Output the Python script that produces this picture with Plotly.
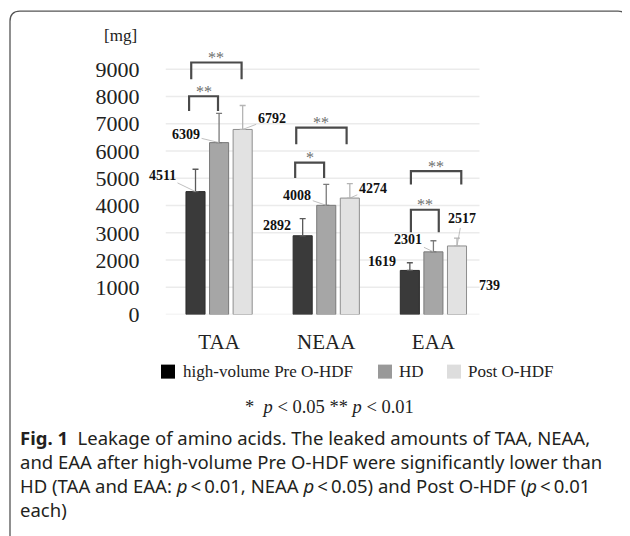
import plotly.graph_objects as go

OFF = 8          # default body margin of the html page
SY = 536 / 550   # vertical factor observed between page and picture
W = 630 - 2 * OFF
H = 550 - 2 * OFF

categories = ["TAA", "NEAA", "EAA"]
series_names = ["high-volume Pre O-HDF", "HD", "Post O-HDF"]
pre_hdf = [4511, 2892, 1619]
hd = [6309, 4008, 2301]
post_hdf = [6792, 4274, 2517]
pre_sd = [820, 626, 281]
hd_sd = [1070, 771, 408]
post_sd = [880, 531, 288]
y_ticks = [0, 1000, 2000, 3000, 4000, 5000, 6000, 7000, 8000, 9000]
stray_label = 739

# significance brackets: (x_left, x_right, y_top, y_bottom, label)
brackets = [
    (-0.26, 0.21, 9250, 8630, "**"),
    (-0.28, -0.01, 8010, 7470, "**"),
    (0.72, 1.19, 6860, 6245, "**"),
    (0.71, 0.98, 5573, 5007, "*"),
    (1.79, 2.26, 5265, 4776, "**"),
    (1.79, 2.05, 3846, 3024, "**"),
]

values = [pre_hdf, hd, post_hdf]
sds = [pre_sd, hd_sd, post_sd]
fills = ["#3a3a3a", "#a6a6a6", "#e2e2e2"]
lines = ["#2b2b2b", "#7a7a7a", "#8e8e8e"]
err_cols = ["#5a5a5a", "#7a7a7a", "#b5b5b5"]
offsets = [-0.22, 0.0, 0.22]
bw = 0.178

SERIF = "Liberation Serif"
SANS = "Noto Sans"


def px(x):
    return (x - OFF) / W


def py(y):
    return 1 - (y / SY - OFF) / H


fig = go.Figure()
for j in range(3):
    fig.add_trace(go.Bar(
        x=[i + offsets[j] for i in range(len(categories))],
        y=values[j],
        width=bw,
        name=series_names[j],
        marker=dict(color=fills[j], line=dict(color=lines[j], width=1)),
        error_y=dict(type="data", array=sds[j], arrayminus=[0] * 3,
                     symmetric=False, color=err_cols[j], thickness=1.3, width=3),
        showlegend=False,
    ))

shapes = []
for t in y_ticks:
    shapes.append(dict(type="line", xref="x", yref="y", x0=-0.5, x1=2.43, y0=t, y1=t,
                       line=dict(color="#ebebeb", width=1.5), layer="below"))
for (xl, xr, yt, yb, lab) in brackets:
    shapes.append(dict(type="path", xref="x", yref="y",
                       path=f"M {xl},{yb} L {xl},{yt} L {xr},{yt} L {xr},{yb}",
                       line=dict(color="#4a4a4a", width=2.2)))
# frame
r = 10
x0f, y0f, x1f, y1f = 10, 11, 628, 548
path = (f"M {px(x0f)},{py(y1f)} L {px(x0f)},{py(y0f + r)} "
        f"Q {px(x0f)},{py(y0f)} {px(x0f + r)},{py(y0f)} "
        f"L {px(x1f - r)},{py(y0f)} Q {px(x1f)},{py(y0f)} {px(x1f)},{py(y0f + r)} "
        f"L {px(x1f)},{py(y1f - r)} Q {px(x1f)},{py(y1f)} {px(x1f - r)},{py(y1f)} "
        f"L {px(x0f + r)},{py(y1f)} Q {px(x0f)},{py(y1f)} {px(x0f)},{py(y1f - r)} Z")
shapes.append(dict(type="path", xref="paper", yref="paper", path=path,
                   line=dict(color="#555555", width=1.3)))

leg_sq = [(161, 175), (378, 392), (447, 461)]
leg_fill = ["#000000", "#999999", "#dddddd"]
for (a, b), c in zip(leg_sq, leg_fill):
    shapes.append(dict(type="rect", xref="paper", yref="paper",
                       x0=px(a), x1=px(b), y0=py(378), y1=py(364),
                       fillcolor=c, line=dict(width=0)))

annotations = []
for (xl, xr, yt, yb, lab) in brackets:
    annotations.append(dict(x=(xl + xr) / 2, y=yt, xref="x", yref="y", text=lab,
                            showarrow=False, xanchor="center", yanchor="middle", yshift=5,
                            font=dict(family=SERIF, size=16, color="#6e6e6e")))

# data labels: (series, category, dx, dy, leader)
label_pos = [
    (0, 0, -33, -16, True), (1, 0, -33, -8, True), (2, 0, 29, -11, True),
    (0, 1, -26, -10, False), (1, 1, -29, -10, True), (2, 1, 23, -10, True),
    (0, 2, -28, -9, False), (1, 2, -25, -12, True), (2, 2, 5, -27, True),
]
for (j, i, ax, ay, lead) in label_pos:
    v = values[j][i]
    xx = i + offsets[j]
    if lead:
        annotations.append(dict(x=xx, y=v, xref="x", yref="y", text=f"<b>{v}</b>",
                                showarrow=True, arrowhead=0, arrowwidth=0.8,
                                arrowcolor="#b0b0b0", ax=ax, ay=ay, standoff=0,
                                xanchor="center", yanchor="middle",
                                font=dict(family=SERIF, size=14, color="#111111")))
    else:
        annotations.append(dict(x=xx, y=v, xref="x", yref="y", text=f"<b>{v}</b>",
                                showarrow=False, xshift=ax, yshift=-ay,
                                xanchor="center", yanchor="middle",
                                font=dict(family=SERIF, size=14, color="#111111")))
annotations.append(dict(x=px(489), y=py(285), xref="paper", yref="paper",
                        text=f"<b>{stray_label}</b>", showarrow=False,
                        xanchor="center", yanchor="middle",
                        font=dict(family=SERIF, size=14, color="#111111")))

annotations.append(dict(x=px(120), y=py(35), xref="paper", yref="paper", text="[mg]",
                        showarrow=False, xanchor="center", yanchor="middle",
                        font=dict(family=SERIF, size=17, color="#222222")))

leg_text_x = [181, 397, 466]
for name, lx in zip(series_names, leg_text_x):
    annotations.append(dict(x=px(lx), y=py(371), xref="paper", yref="paper", text=name,
                            showarrow=False, xanchor="left", yanchor="middle",
                            font=dict(family=SERIF, size=17, color="#222222")))

annotations.append(dict(x=px(329), y=py(406), xref="paper", yref="paper",
                        text="*  <i>p</i> &lt; 0.05 ** <i>p</i> &lt; 0.01",
                        showarrow=False, xanchor="center", yanchor="middle",
                        font=dict(family=SERIF, size=18.5, color="#222222")))

ts = "\u2009"
caption_lines = [
    "<b>Fig. 1</b>  Leakage of amino acids. The leaked amounts of TAA, NEAA,",
    "and EAA after high-volume Pre O-HDF were significantly lower than",
    f"HD (TAA and EAA: <i>p</i>{ts}&lt;{ts}0.01, NEAA <i>p</i>{ts}&lt;{ts}0.05) "
    f"and Post O-HDF (<i>p</i>{ts}&lt;{ts}0.01",
    "each)",
]
cap_y = [437, 461, 485, 509]
for t, yy in zip(caption_lines, cap_y):
    annotations.append(dict(x=px(18), y=py(yy), xref="paper", yref="paper", text=t,
                            showarrow=False, xanchor="left", yanchor="middle",
                            font=dict(family=SANS, size=18.5, color="#231f20")))

fig.update_layout(
    width=W, height=H,
    margin=dict(l=0, r=0, t=0, b=0),
    paper_bgcolor="white", plot_bgcolor="white",
    barmode="overlay",
    shapes=shapes, annotations=annotations,
    xaxis=dict(domain=[px(165.5), px(487)], range=[-0.5, 2.5],
               tickvals=list(range(len(categories))), ticktext=categories,
               showgrid=False, zeroline=False, showline=False, ticks="",
               tickfont=dict(family=SERIF, size=21, color="#222222"),
               ticklabelstandoff=12),
    yaxis=dict(domain=[py(314), py(41.8)], range=[0, 10000],
               tickvals=y_ticks, showgrid=False, zeroline=False, showline=False,
               ticks="", tickfont=dict(family=SERIF, size=22, color="#222222"),
               ticklabelstandoff=25),
)

fig.write_html("out.html")
